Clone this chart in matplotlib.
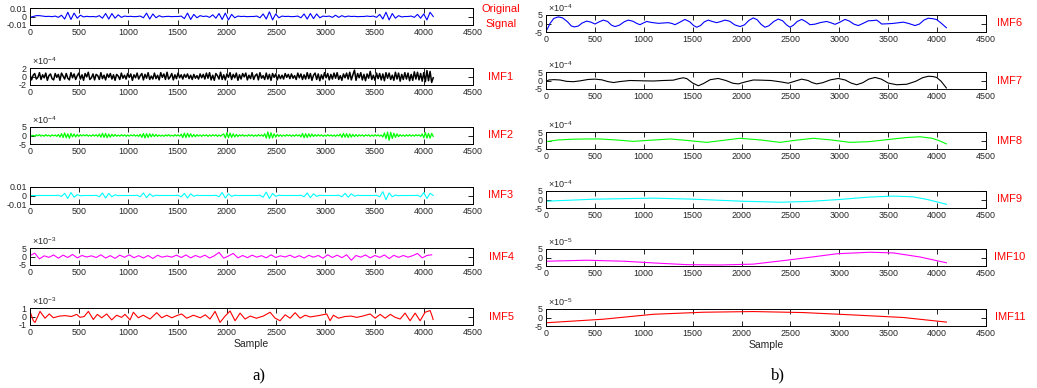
import matplotlib.pyplot as plt
import numpy as np

plt.rcParams['font.family'] = 'Liberation Sans'
plt.rcParams['axes.unicode_minus'] = False
plt.rcParams['mathtext.default'] = 'regular'

# original signal, units of 1e-3, one value every 32 samples
orig = [-1, 0, 1, 1, 0.5, 0, 0.2, -0.2, 0.5,
        -1, 1.5, -3, 5, -3.5, 4, -2, 1.5, -0.5,
        0.2, -0.2, 0, -0.5,
        1, -2, 3.5, -3, 3.5, -2, 2, -1, 0.5,
        0, 0.2, -0.2, 0,
        0.5, -1.5, 4, -3, 3, -1.5, 1, -0.5,
        0, 0.2, -0.2, 0, 0,
        0.5, -2.5, 4, -3.5, 2.5, -1.5, 1, 0, 0.5,
        -1, 2, -2, 3.5, -3.5, 4, -4, 2.5, -1.5, 0.5,
        0, 0.2, -0.2, 0, 0, 0.5,
        -1.5, 3, -3, 5.5, -4, 3, -1.5, 0.5,
        0, 0.2, -0.2, 0, 0.5,
        -1.5, 3, -3, 3.5, -2.5, 3, -1.5, 0.5,
        0, 0.5, -1, 1.5, -1, 1, -0.5, 0.5,
        0, 0.2, -0.2, 0, 0, 0.5, 0,
        0.5, -1, 2.5, -3, 5, -4, 3.5, -2, 1, -0.5,
        0, 0, 0.5,
        -1, 2.5, -2, 3, -4, 5, 0]

# IMF1, units of 1e-4, one value every 16 samples
imf1 = [0.5, -0.8, 0.3, 0.7, -0.6, -0.2, 0.9, -0.7, 0.4, -0.3, 0.8, -0.9, 0.2, 0.6, -0.5, -0.8,
        0.7, -0.2, 0.5, -0.9, 0.8, 0.1, -0.6, 0.7, -0.4, -0.8, 0.9, -0.3, 0.6, -0.7, 0.2, 0.8,
        -0.6, 0.4, -0.9, 0.7, -0.1, 1.0, -0.7, -0.3, 0.6, -0.8, 0.5, 0.2, -0.7, 0.9, -0.5, 0.3,
        -0.8, 0.6, -0.2, 0.7, -0.6, 0.4, -0.9, 0.5, 0.1, -0.7, 0.8, -0.4, 0.3, -0.6, 0.7, -0.2,
        0.6, -0.9, 0.4, -0.3, 0.8, -0.6, 0.2, 0.7, -0.8, 0.5, -0.4, 0.9, -0.7, 0.1, -0.6, 0.8,
        -0.5, 0.3, -0.8, 0.9, -0.2, 0.6, -0.7, 1.0, -0.6, -0.1, 0.7, -0.8, 0.4, -0.5, 0.8, -0.3,
        0.4, -0.6, 0.5, -0.2, 0.6, -0.5, 0.3, -0.7, 0.5, -0.4, 0.2, -0.6, 0.6, -0.3, 0.5, -0.6,
        0.8, -0.4, 0.9, -0.8, 0.3, -0.9, 0.7, 0.2, -0.6, 1.0, -0.7, 0.4, -0.8, 0.6, -0.2, 0.9,
        -0.7, 0.5, -0.3, 0.8, -0.9, 0.4, -0.6, 0.7, -0.1, 0.8, -0.8, 0.3, -0.5, 0.9, -0.7, 0.2,
        0.6, -0.8, 0.9, -0.4, 0.2, -0.7, 0.8, -0.6, 0.5, -0.9, 0.7, -0.2, 0.6, -0.8, 0.4, -0.5,
        0.3, -0.6, 0.7, -0.2, 0.5, -0.5, 0.6, -0.4, 0.2, -0.7, 0.8, -0.3, 0.6, -0.7, 0.4, -0.6,
        0.9, -0.5, 0.7, -0.9, 0.3, 0.8, -0.7, 0.6, -1.0, 0.4, -0.6, 0.9, -0.3, 0.7, -0.8, 0.5,
        -0.6, 0.8, -0.4, 0.9, -0.7, 0.2, -0.9, 0.6, -0.3, 0.8, -0.6, 1.0, -0.8, 0.4, 1.5, -0.9,
        0.7, -0.3, 0.9, -0.8, 0.5, -1.0, 0.6, -0.4, 1.2, -0.7, 0.3, -0.9, 0.8, -0.5, 0.7, -0.8,
        0.6, -1.0, 0.9, -0.4, 0.8, -0.7, 0.3, -0.9, 1.0, -0.6, 0.8, -1.1, 0.5, -0.7, 0.9, -0.6,
        0.8, -1.0, 0.5, -0.9, 1.1, -0.6, 1.0, -0.8, 0.7, -1.1, 0.9, -1.2, 1.4, -1.0, 1.2, -1.4,
        -0.3]

# IMF2, units of 1e-4, one value every 16 samples
imf2 = [0.4, -0.3, 0.2, -0.5, 0.4, -0.2, 0.5, -0.4, 0.2, -0.4, 0.5, -0.3, 0.2, -0.5, 0.4, -0.2,
        0.3, -0.5, 0.6, -0.9, 1.1, -1.2, 1.5, -1.3, 1.0, -1.6, 1.2, -0.8, 0.9, -0.9, 0.6, -0.5,
        0.5, -0.3, 0.4, -0.2, 0.5, -0.4, 0.2, -0.4, 0.5, -0.3, 0.4, -0.5, 0.8, -1.0, 1.3, -1.1,
        1.2, -1.3, 0.8, -0.9, 0.7, -0.5, 0.6, -0.4, 0.2, -0.4, 0.5, -0.3, 0.4, -0.5, 0.3, -0.4,
        0.4, -0.2, 0.5, -0.4, 0.3, -0.5, 0.7, -1.1, 1.2, -1.4, 1.1, -1.2, 1.0, -0.8, 0.9, -0.6,
        0.6, -0.5, 0.3, -0.4, 0.2, -0.5, 0.4, -0.3, 0.5, -0.4, 0.2, -0.4, 0.5, -0.3, 0.4, -0.4,
        0.8, -1.2, 1.4, -1.2, 1.3, -0.9, 1.0, -0.8, 0.6, -0.7, 0.5, -0.4, 0.3, -0.5, 0.4, -0.2,
        0.4, -0.5, 0.3, -0.4, 0.5, -0.2, 0.4, -0.5, 0.3, -0.4, 0.4, 0.9, -1.4, 1.6, -1.3, 1.4,
        -1.1, 1.0, -0.9, 0.6, -0.6, 0.4, -0.3, 0.5, -0.4, 0.2, -0.4, 0.5, -0.3, 0.4, -0.5, 0.3,
        -0.4, 0.5, -0.3, 0.4, -0.5, 1.0, -1.5, 2.1, -1.7, 1.6, -1.4, 1.0, -0.9, 0.6, -0.5, 0.4,
        -0.5, 0.3, -0.4, 0.5, -0.2, 0.4, -0.5, 0.3, -0.4, 0.5, -0.3, 0.4, -0.8, 1.2, -1.3, 1.1,
        -1.2, 1.0, -0.8, 0.9, -0.6, 0.5, -0.4, 0.5, -0.3, 0.4, -0.5, 0.2, -0.4, 0.5, -0.3, 0.4,
        -0.4, 0.3, -0.5, 0.4, -0.3, 0.8, -1.1, 1.2, -1.0, 1.1, -1.2, 0.9, -0.9, 0.7, -0.6, 0.5,
        -0.5, 0.4, -0.3, 0.4, -0.5, 0.4, -0.2, 0.4, -0.5, 0.3, -0.4, 0.5, -0.3, 0.4, -0.4, 0.3,
        -0.9, 1.5, -1.8, 2.0, -2.8, 1.9, -1.7, 1.3, -1.1, 1.0, -0.7, 0.5, -0.4, 0.3, -0.5, 0.4,
        -0.3, 0.5, -0.4, 0.3, -0.4, 0.5, -0.2, 0.4, -0.5, 0.9, -1.3, 1.7, -1.5, 1.2, -1.6, 1.3,
        -0.5]

# IMF3, units of 1e-3, one value every 32 samples
imf3 = [0, 0, 0, 0, 0, 0, 0, 0, 0, 0.3,
        -1, 2.5, -3.5, 3.5, -2, 1, -0.3,
        0, 0, 0, 0, 0.3,
        -1.5, 3, -3, 2.5, -1.5, 0.8, -0.2,
        0, 0, 0, 0, 0, 0.3,
        -1.5, 3, -2.5, 2, -1, 0.3,
        0, 0, 0, 0, 0, 0, 0.3,
        -1.5, 2.5, -3, 2, -1, 0.3, 0,
        0, 0, 0, 0, 0.3,
        -1.5, 3.5, -3, 2, -1, 0.3,
        0, 0, 0, 0, 0, 0, 0, 0.3,
        -2, 4, -3.5, 2.5, -1, 0.3,
        0, 0, 0, 0, 0, 0, 0.3,
        -1.5, 3, -2.5, 2, -1, 0.3,
        0, 0, 0, 0, 0, 0.3,
        -1.5, 2.5, -2, 2, -0.8, 0.3,
        0, 0, 0, 0, 0, 0.3,
        -1.5, 4.5, -5, 3, -1.5, 0.5, -0.2,
        0, 0, 0, 0, 0, 0.3,
        -1.5, 3.5, -3.5, 2.5, 0]

# IMF4, units of 1e-3, one value every 48 samples
imf4 = [0.5, 2.0, -1.4, 0.4, -0.5, 0.9, -1.0, 0.8, -0.6, 1.2,
        -0.8, 0.6, -0.3, 0.4, -0.6, 1.0, -0.9, 0.5, -1.1, 0.8,
        -0.5, 1.0, -0.7, 0.5, -0.9, 0.6, -1.2, 0.7, -0.4, 0.3,
        -0.4, 0.8, -0.6, 0.9, -0.8, 0.6, -0.5, 0.8, -0.9, 0.4,
        2.4, -1.0, 0.3, 1.8, -0.8, 0.6, -0.7, 0.8, -0.4, 0.5,
        -0.8, 1.0, -0.6, 0.4, -0.3, 0.8, -0.6, 0.5, -0.9, 0.7,
        -0.4, 0.6, -1.0, 1.0, -0.6, 0.8, -0.7, 1.0, -2.2, 0.6,
        -0.4, 0.9, -0.8, 0.6, -0.5, 0.9, -1.2, 0.7, -0.5, 0.6,
        -0.4, 0.5, 1.8, -0.8, 0.6, 1.0]

# IMF5, units of 1e-3, (sample, value) turning points
imf5_x = [0, 34, 51, 102, 152, 196, 237, 300, 360, 420,
          474, 508, 550, 593, 643, 684, 728, 779, 830, 880,
          930, 965, 1016, 1050, 1100, 1150, 1219, 1287, 1338, 1389,
          1440, 1490, 1540, 1592, 1660, 1730, 1780, 1829, 1880, 1930,
          1982, 2032, 2083, 2134, 2185, 2236, 2300, 2370, 2439, 2490,
          2540, 2592, 2642, 2693, 2744, 2795, 2846, 2930, 3014, 3048,
          3082, 3133, 3200, 3260, 3320, 3380, 3455, 3506, 3557, 3608,
          3660, 3710, 3760, 3810, 3861, 3912, 3963, 4013, 4064, 4080, 4095]
imf5_y = [0.6, -0.5, -0.7, 0.6, -0.2, 0.3, -0.15, 0.05, 0.1, 0.0,
          0.25, -0.1, 0.0, 0.6, -0.35, 0.25, -0.15, 0.3, -0.4, 0.15,
          -0.1, 0.25, -0.4, 0.5, -0.15, 0.15, -0.3, 0.45, -0.15, 0.15,
          -0.15, 0.1, 0.3, -0.2, 0.15, -0.15, 0.2, -0.3, 0.6, -0.7,
          0.05, 0.65, -0.5, 0.4, -0.3, 0.05, -0.2, 0.05, 0.5, -0.2,
          -0.5, 0.2, -0.2, 0.45, -0.2, 0.15, -0.05, 0.1, 0.3, -0.5,
          0.15, -0.2, 0.0, 0.05, -0.1, 0.05, 0.3, -0.2, 0.25, -0.2,
          0.25, -0.1, -0.3, 0.4, -0.5, 0.4, -0.5, 0.5, 0.7, 0.2, -0.35]

# IMF6 .. IMF9 in units of 1e-4, IMF10/11 in 1e-5
imf6_x = [0, 20, 41, 80, 126, 170, 220, 260, 290, 330,
          370, 416, 460, 501, 545, 586, 630, 670, 706, 750,
          800, 842, 890, 930, 961, 995, 1030, 1080, 1150, 1250,
          1290, 1319, 1370, 1421, 1470, 1510, 1541, 1580, 1620, 1660,
          1700, 1745, 1790, 1830, 1880, 1930, 1984, 2030, 2075, 2120,
          2160, 2200, 2240, 2280, 2330, 2376, 2420, 2460, 2495, 2530,
          2570, 2615, 2655, 2700, 2750, 2810, 2870, 2910, 2956, 3000,
          3058, 3100, 3150, 3194, 3240, 3297, 3340, 3382, 3410, 3433,
          3480, 3540, 3600, 3654, 3710, 3774, 3820, 3865, 3910, 3960,
          3995, 4040, 4095]
imf6_y = [-4.6, -2.5, 0, 3.0, 3.9, 3.3, 1.0, -1.5, -2.0, -1.5,
          0.3, 1.4, 0.8, -0.3, 1.0, 2.0, 1.2, -1.0, -1.8, -1.0,
          1.0, 2.0, 1.3, 0.0, -0.7, 0.3, 1.2, 0.6, 0.1, 0.5,
          0.0, -0.7, 0.8, 2.4, 1.0, -1.2, -2.2, -1.2, 1.0, 2.0,
          1.2, 0.5, 1.2, 2.0, 1.3, -0.8, -1.8, -0.8, 1.8, 3.3,
          2.2, -0.5, -2.2, -1.3, 1.2, 2.6, 1.6, -0.8, -2.2, -1.0,
          1.2, 2.4, 1.2, -0.7, -0.4, 0.6, 1.2, 0.5, -0.5, 0.6,
          2.4, 1.5, -0.4, -1.2, 0.0, 1.6, 1.7, 2.0, 0.8, -0.3,
          -0.2, 0.0, 0.4, 0.8, 0.0, -1.2, -0.3, 2.0, 3.1, 2.8,
          2.3, 0.3, -2.5]

imf7_x = [0, 30, 80, 143, 210, 280, 350, 430, 501, 570,
          630, 689, 760, 859, 1000, 1100, 1200, 1302, 1360, 1404,
          1440, 1500, 1558, 1610, 1680, 1762, 1840, 1910, 1967, 2040,
          2120, 2200, 2300, 2400, 2478, 2540, 2615, 2680, 2720, 2768,
          2830, 2910, 2990, 3060, 3120, 3177, 3240, 3300, 3365, 3430,
          3500, 3586, 3690, 3780, 3850, 3910, 3960, 3995, 4040, 4095]
imf7_y = [-0.5, 0.3, 0.5, 0.3, -0.5, -0.7, -0.2, 0.6, 0.8, 0.4,
          -0.6, -1.2, -0.6, 0, -0.2, -0.3, 0, 0.2, 1.1, 1.6,
          1.1, -1.5, -3.1, -1.8, 0.5, 1.2, 0.0, -1.6, -2.0, -0.8,
          0.3, 0.2, 0, -0.8, -1.6, -0.5, 0.8, 0.0, -1.2, -2.0,
          -1.3, 0.4, 1.2, 0.3, -1.5, -2.5, -1.3, 0.8, 1.8, 0.8,
          -1.5, -2.5, -2.2, -0.5, 1.6, 2.5, 2.3, 1.8, -0.4, -4.4]

imf8_x = [0, 120, 245, 400, 552, 720, 893, 1080, 1268, 1450,
          1643, 1800, 1984, 2200, 2393, 2560, 2734, 2920, 3109, 3300,
          3550, 3700, 3825, 3950, 4030, 4095]
imf8_y = [-0.7, 0.3, 0.7, 0.9, 0.9, 0.3, -0.5, 0.2, 0.9, 0,
          -1.1, 0, 1.3, 0.3, -1.1, 0.2, 1.3, 0.3, -1.1, -0.7,
          0.9, 1.8, 2.2, 1.3, -0.3, -2.0]

imf9_x = [0, 500, 1100, 1500, 2000, 2400, 2700, 3000, 3300, 3550, 3750, 3900, 4095]
imf9_y = [-1.0, 0.2, 0.8, 0.2, -1.0, -1.6, -1.1, 0, 1.4, 2.0, 1.6, 0.0, -2.8]

imf10_x = [0, 416, 800, 1100, 1439, 1780, 2120, 2461, 2750, 2973, 3314, 3552, 3825, 4095]
imf10_y = [-2.2, -1.6, -2.2, -3.2, -4.2, -4.4, -3.9, -1.6, 0.5, 2.2, 3.1, 2.7, 0.3, -3.1]

imf11_x = [0, 586, 1098, 1609, 2120, 2632, 3143, 3654, 4095]
imf11_y = [-3.1, -1.0, 1.9, 3.1, 3.5, 2.9, 1.5, 0, -2.7]

W, H = 1037, 388
fig = plt.figure(figsize=(W / 100, H / 100), dpi=100)
GRAY = '#262626'


def panel(left, right, top, xs, ys, scale, color, ymax, ylabels, exp, name, lw=0.8):
    ax = fig.add_axes([left / W, 1 - (top + 17) / H, (right - left) / W, 17 / H])
    ax.plot(xs, np.array(ys) * scale, color=color, lw=lw)
    ax.set_xlim(0, 4500)
    ax.set_xticks(np.arange(0, 4501, 500))
    ax.set_ylim(-ymax, ymax)
    ax.set_yticks([-ymax, 0, ymax])
    ax.set_yticklabels(ylabels)
    ax.tick_params(direction='in', top=True, right=True, length=3.5, width=0.6,
                   labelsize=6.4, pad=2.3, labelcolor=GRAY)
    for s in ax.spines.values():
        s.set_linewidth(0.7)
    if exp:
        ax.text(0.005, 1.04, exp, transform=ax.transAxes, fontsize=6.5,
                color=GRAY, va='bottom', ha='left')
    cx = 501 if left < 500 else 1010
    fig.text(cx / W, 1 - (top + 8.5) / H, name, color='red', fontsize=8,
             ha='center', va='center', linespacing=1.6)
    return ax


LX0, LX1 = 30, 473
RX0, RX1 = 546, 986
ticks_small = ['-0.01', '0', '0.01']

panel(LX0, LX1, 8, np.arange(len(orig)) * 32, orig, 1e-3, 'blue', 0.01,
      ticks_small, None, 'Original\nSignal')
panel(LX0, LX1, 68, np.arange(len(imf1)) * 16, imf1, 1e-4, 'black', 2e-4,
      ['-2', '0', '2'], r'$\times10^{-4}$', 'IMF1', lw=1.1)
panel(LX0, LX1, 127, np.arange(len(imf2)) * 16, imf2, 1e-4, '#00ff00', 5e-4,
      ['-5', '0', '5'], r'$\times10^{-4}$', 'IMF2', lw=0.9)
panel(LX0, LX1, 187, np.arange(len(imf3)) * 32, imf3, 1e-3, 'cyan', 0.01,
      ticks_small, None, 'IMF3')
panel(LX0, LX1, 248, np.arange(len(imf4)) * 48, imf4, 1e-3, 'magenta', 5e-3,
      ['-5', '0', '5'], r'$\times10^{-3}$', 'IMF4')
ax5 = panel(LX0, LX1, 308, imf5_x, imf5_y, 1e-3, 'red', 1e-3,
            ['-1', '0', '1'], r'$\times10^{-3}$', 'IMF5')
ax5.set_xlabel('Sample', fontsize=7.5, color=GRAY, labelpad=1)

panel(RX0, RX1, 15, imf6_x, imf6_y, 1e-4, 'blue', 5e-4,
      ['-5', '0', '5'], r'$\times10^{-4}$', 'IMF6')
panel(RX0, RX1, 72, imf7_x, imf7_y, 1e-4, 'black', 5e-4,
      ['-5', '0', '5'], r'$\times10^{-4}$', 'IMF7')
panel(RX0, RX1, 132, imf8_x, imf8_y, 1e-4, '#00ff00', 5e-4,
      ['-5', '0', '5'], r'$\times10^{-4}$', 'IMF8')
panel(RX0, RX1, 191, imf9_x, imf9_y, 1e-4, 'cyan', 5e-4,
      ['-5', '0', '5'], r'$\times10^{-4}$', 'IMF9')
panel(RX0, RX1, 249, imf10_x, imf10_y, 1e-5, 'magenta', 5e-5,
      ['-5', '0', '5'], r'$\times10^{-5}$', 'IMF10')
ax11 = panel(RX0, RX1, 309, imf11_x, imf11_y, 1e-5, 'red', 5e-5,
             ['-5', '0', '5'], r'$\times10^{-5}$', 'IMF11')
ax11.set_xlabel('Sample', fontsize=7.5, color=GRAY, labelpad=1)

fig.text(259 / W, 1 - 376 / H, 'a)', fontsize=12, family='Liberation Serif',
         ha='center', va='center')
fig.text(778 / W, 1 - 375 / H, 'b)', fontsize=12, family='Liberation Serif',
         ha='center', va='center')

fig.savefig('out.png', dpi=100)
